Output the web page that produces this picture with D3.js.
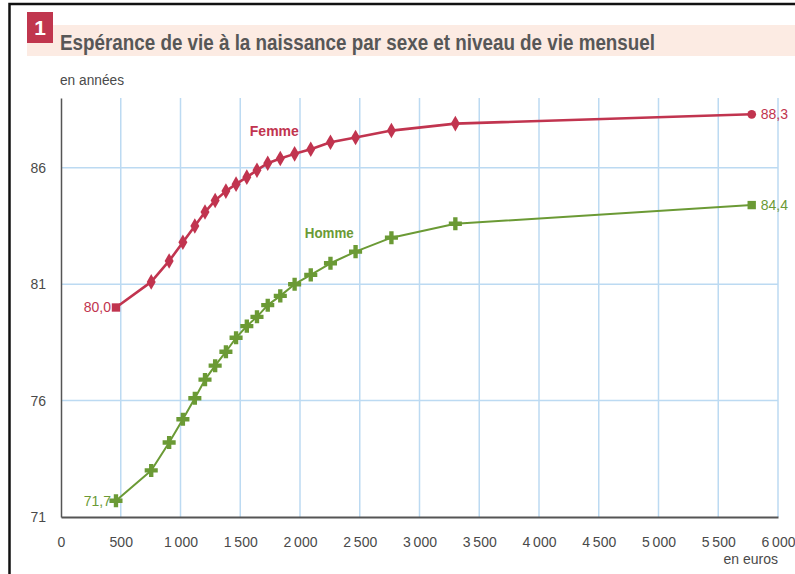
<!DOCTYPE html>
<html>
<head>
<meta charset="utf-8">
<script src="https://cdn.jsdelivr.net/npm/d3@7"></script>
<style>
  body { margin: 0; background: #fff; }
  svg { display: block; font-family: "Liberation Sans", Arial, sans-serif; }
</style>
</head>
<body>
<div id="wrapper"></div>
<script>
// niveau de vie mensuel moyen de chaque vingtième (euros)
const niveauVie = [460, 755, 905, 1020, 1120, 1205, 1290, 1380, 1465, 1555,
                   1640, 1730, 1835, 1955, 2090, 2255, 2465, 2765, 3300, 5780];
const femme = [80.0, 81.1, 82.0, 82.8, 83.5, 84.1, 84.6, 85.0, 85.3, 85.6,
               85.9, 86.2, 86.4, 86.6, 86.8, 87.1, 87.3, 87.6, 87.9, 88.3];
const homme = [71.7, 73.0, 74.2, 75.2, 76.1, 76.9, 77.5, 78.1, 78.7, 79.2,
               79.6, 80.1, 80.5, 81.0, 81.4, 81.9, 82.4, 83.0, 83.6, 84.4];
const xTicks = [0, 500, 1000, 1500, 2000, 2500, 3000, 3500, 4000, 4500, 5000, 5500, 6000];
const yTicks = [71, 76, 81, 86];

function buildPlot() {
    const dimension = {
        width: 795,
        height: 574,
        margin: { top: 98, left: 61, bottom: 57, right: 17 }
    };

    const red = "#c1344f";
    const green = "#6b9a35";
    const grey = "#4a4a4a";

    const svg = d3.select("#wrapper").append("svg")
        .attr("width", dimension.width)
        .attr("height", dimension.height);

    // cadre
    svg.append("path")
        .attr("d", "M9.5,574 V4 H795")
        .attr("fill", "none")
        .attr("stroke", "#111")
        .attr("stroke-width", 2.5);

    // bandeau du titre
    svg.append("rect").attr("x", 27).attr("y", 25).attr("width", 768).attr("height", 31)
        .attr("fill", "#fcebe3");
    svg.append("rect").attr("x", 27).attr("y", 12).attr("width", 26).attr("height", 31)
        .attr("fill", "#c0364e");
    svg.append("text").attr("x", 40).attr("y", 35)
        .attr("text-anchor", "middle")
        .attr("fill", "#fff").style("font-weight", "bold").style("font-size", "21px")
        .text("1");
    svg.append("text").attr("x", 60).attr("y", 50)
        .attr("fill", "#575757").style("font-weight", "bold").style("font-size", "22px")
        .attr("textLength", 595).attr("lengthAdjust", "spacingAndGlyphs")
        .text("Espérance de vie à la naissance par sexe et niveau de vie mensuel");

    const xScaler = d3.scaleLinear()
        .domain([0, 6000])
        .range([dimension.margin.left, dimension.width - dimension.margin.right]);
    const yScaler = d3.scaleLinear()
        .domain([71, 89])
        .range([dimension.height - dimension.margin.bottom, dimension.margin.top]);

    const gridColor = "#bcdaf2";
    const bottom = yScaler(71), top = yScaler(89);

    // grille
    svg.append("g").selectAll("line").data(xTicks.filter(d => d > 0)).join("line")
        .attr("x1", d => xScaler(d)).attr("x2", d => xScaler(d))
        .attr("y1", top).attr("y2", bottom)
        .attr("stroke", gridColor).attr("stroke-width", 1.5);
    svg.append("g").selectAll("line").data(yTicks.filter(d => d > 71)).join("line")
        .attr("x1", xScaler(0)).attr("x2", xScaler(6000))
        .attr("y1", d => yScaler(d)).attr("y2", d => yScaler(d))
        .attr("stroke", gridColor).attr("stroke-width", 1.5);

    const fmt = d3.formatLocale({ decimal: ",", thousands: "\u2009", grouping: [3], currency: ["", " €"] });

    const x_axis = d3.axisBottom(xScaler).tickValues(xTicks).tickSize(0).tickPadding(20)
        .tickFormat(fmt.format(",d"));
    const gx = svg.append("g")
        .attr("transform", `translate(0, ${bottom})`)
        .call(x_axis);
    gx.select(".domain").attr("stroke", "#555").attr("stroke-width", 2);
    gx.selectAll("text").attr("fill", grey).style("font-size", "14px")
        .style("font-family", "Liberation Sans, Arial, sans-serif");

    const y_axis = d3.axisLeft(yScaler).tickValues(yTicks).tickSize(0).tickPadding(15);
    const gy = svg.append("g")
        .attr("transform", `translate(${xScaler(0)}, 0)`)
        .call(y_axis);
    gy.select(".domain").attr("stroke", "#555").attr("stroke-width", 1.5);
    gy.selectAll("text").attr("fill", grey).style("font-size", "14px")
        .style("font-family", "Liberation Sans, Arial, sans-serif");

    svg.append("text").attr("x", 60).attr("y", 85)
        .attr("fill", grey).style("font-size", "14px")
        .attr("textLength", 64).attr("lengthAdjust", "spacingAndGlyphs")
        .text("en années");
    svg.append("text").attr("x", xScaler(6000)).attr("y", 564)
        .attr("text-anchor", "end")
        .attr("fill", grey).style("font-size", "14px").text("en euros");

    // courbes
    const series = [
        { name: "Femme", values: femme, color: red, width: 2.6,
          shape: d3.symbolDiamond, size: 70, first: d3.symbolSquare, last: d3.symbolCircle,
          label: [1580, 87.35] },
        { name: "Homme", values: homme, color: green, width: 2,
          shape: d3.symbolCross, size: 95, first: d3.symbolCross, last: d3.symbolSquare,
          label: [2040, 83.0] }
    ];

    const lineGenerator = d3.line()
        .x(d => xScaler(d[0]))
        .y(d => yScaler(d[1]));

    series.forEach(s => {
        const pts = niveauVie.map((v, i) => [v, s.values[i]]);
        svg.append("path")
            .attr("d", lineGenerator(pts))
            .attr("fill", "none")
            .attr("stroke", s.color)
            .attr("stroke-width", s.width)
            .attr("stroke-linejoin", "round");

        svg.append("g").selectAll("path").data(pts).join("path")
            .attr("transform", d => `translate(${xScaler(d[0])},${yScaler(d[1])})`)
            .attr("d", (d, i) => {
                let type = s.shape;
                if (i === 0) type = s.first;
                if (i === pts.length - 1) type = s.last;
                const size = type === d3.symbolSquare ? 70 : (type === d3.symbolCircle ? 60 : s.size);
                return d3.symbol().type(type).size(size)();
            })
            .attr("fill", s.color);

        svg.append("text")
            .attr("x", xScaler(s.label[0])).attr("y", yScaler(s.label[1]))
            .attr("fill", s.color).style("font-weight", "bold").style("font-size", "15px")
            .attr("textLength", 49).attr("lengthAdjust", "spacingAndGlyphs")
            .text(s.name);

        const f = fmt.format(".1f");
        const p0 = pts[0], pn = pts[pts.length - 1];
        svg.append("text")
            .attr("x", xScaler(p0[0]) - 5).attr("y", yScaler(p0[1]))
            .attr("dy", "0.35em").attr("text-anchor", "end")
            .attr("fill", s.color).style("font-size", "14px")
            .text(f(p0[1]));
        svg.append("text")
            .attr("x", xScaler(pn[0]) + 9).attr("y", yScaler(pn[1]))
            .attr("dy", "0.35em")
            .attr("fill", s.color).style("font-size", "14px")
            .text(f(pn[1]));
    });
}
buildPlot();
</script>
</body>
</html>
